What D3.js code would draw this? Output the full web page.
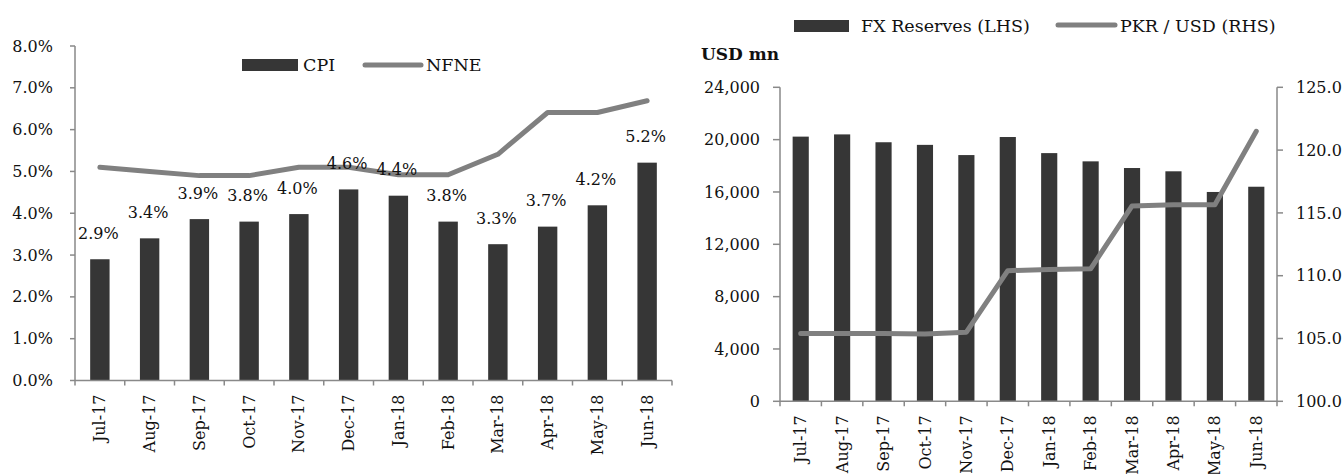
<!DOCTYPE html>
<head>
<meta charset="utf-8">
<style>
body { margin: 0; background: #fff; }
svg { display: block; }
text { font-family: "DejaVu Serif", serif; font-size: 16px; fill: #111; }
.legend { font-size: 17.5px; }
.axis-line { stroke: #898989; stroke-width: 1.5; fill: none; }
.bar { fill: #363636; }
.line { fill: none; stroke: #808080; stroke-width: 5; stroke-linejoin: round; stroke-linecap: round; }
</style>
<title>CPI vs NFNE, FX reserves vs PKR/USD</title>
</head>
<body>
<svg width="1344" height="474"></svg>
<script src="https://cdn.jsdelivr.net/npm/d3@7"></script>
<script>
// ---- data ----
var months = ["Jul-17","Aug-17","Sep-17","Oct-17","Nov-17","Dec-17","Jan-18","Feb-18","Mar-18","Apr-18","May-18","Jun-18"];
var cpi = [2.90, 3.40, 3.86, 3.80, 3.98, 4.57, 4.42, 3.80, 3.26, 3.68, 4.19, 5.21];
var nfne = [5.10, 5.00, 4.90, 4.90, 5.10, 5.10, 4.92, 4.92, 5.41, 6.41, 6.41, 6.69];
var pctTicks = [0, 1, 2, 3, 4, 5, 6, 7, 8];

var fxReserves = [20230, 20400, 19800, 19600, 18820, 20200, 18970, 18340, 17830, 17580, 16000, 16400];
var pkrUsd = [105.4, 105.4, 105.4, 105.35, 105.5, 110.4, 110.5, 110.55, 115.55, 115.65, 115.65, 121.5];
var fxTicks = [0, 4000, 8000, 12000, 16000, 20000, 24000];
var pkrTicks = [100, 105, 110, 115, 120, 125];

var svg = d3.select("svg");

// helper: draw category axis with ticks between categories
function catAxis(g, x, y0, labelGap) {
  var d0 = x.range()[0], d1 = x.range()[1];
  g.append("line").attr("class", "axis-line")
    .attr("x1", d0).attr("x2", d1).attr("y1", y0).attr("y2", y0);
  var edges = x.domain().map(function(d) { return x(d); }).concat([d1]);
  g.selectAll(".xt").data(edges).enter().append("line")
    .attr("class", "axis-line")
    .attr("x1", function(d) { return d; }).attr("x2", function(d) { return d; })
    .attr("y1", y0).attr("y2", y0 + 5);
  g.selectAll(".xl").data(x.domain()).enter().append("text")
    .attr("transform", function(d) { return "translate(" + (x(d) + x.bandwidth() / 2) + "," + (y0 + labelGap) + ") rotate(-90)"; })
    .attr("text-anchor", "end")
    .attr("dy", "0.35em")
    .text(function(d) { return d; });
}

// ================= left chart =================
var xL = d3.scaleBand().domain(months).range([75, 672]);
var yL = d3.scaleLinear().domain([0, 8]).range([380.5, 46]);
var g1 = svg.append("g");

g1.append("line").attr("class", "axis-line")
  .attr("x1", 75).attr("x2", 75).attr("y1", yL(8)).attr("y2", yL(0));
g1.selectAll(".yt").data(pctTicks).enter().append("line")
  .attr("class", "axis-line")
  .attr("x1", 70).attr("x2", 75)
  .attr("y1", function(d) { return yL(d); }).attr("y2", function(d) { return yL(d); });
g1.selectAll(".yl").data(pctTicks).enter().append("text")
  .attr("x", 53).attr("y", function(d) { return yL(d); })
  .attr("dy", "0.35em").attr("text-anchor", "end")
  .text(function(d) { return d.toFixed(1) + "%"; });

var bw1 = xL.bandwidth() * 0.39;
g1.selectAll(".bar").data(cpi).enter().append("rect")
  .attr("class", "bar")
  .attr("x", function(d, i) { return xL(months[i]) + (xL.bandwidth() - bw1) / 2; })
  .attr("y", function(d) { return yL(d); })
  .attr("width", bw1)
  .attr("height", function(d) { return yL(0) - yL(d); });

catAxis(g1, xL, yL(0), 14);

g1.append("path").datum(nfne).attr("class", "line")
  .attr("d", d3.line()
    .x(function(d, i) { return xL(months[i]) + xL.bandwidth() / 2; })
    .y(function(d) { return yL(d); }));

g1.selectAll(".dl").data(cpi).enter().append("text")
  .attr("x", function(d, i) { return xL(months[i]) + xL.bandwidth() / 2 - 1.5; })
  .attr("y", function(d) { return yL(d) - 26; })
  .attr("dy", "0.35em").attr("text-anchor", "middle")
  .text(function(d) { return d.toFixed(1) + "%"; });

// legend
g1.append("rect").attr("class", "bar").attr("x", 242).attr("y", 59).attr("width", 56).attr("height", 12);
g1.append("text").attr("class", "legend").attr("x", 303).attr("y", 65).attr("dy", "0.35em").text("CPI");
g1.append("line").attr("class", "line").attr("x1", 365).attr("x2", 421).attr("y1", 65).attr("y2", 65);
g1.append("text").attr("class", "legend").attr("x", 426).attr("y", 65).attr("dy", "0.35em").text("NFNE");

// ================= right chart =================
var xR = d3.scaleBand().domain(months).range([780, 1277]);
var yFx = d3.scaleLinear().domain([0, 24000]).range([401.3, 87.3]);
var yPkr = d3.scaleLinear().domain([100, 125]).range([401.3, 87.3]);
var g2 = svg.append("g");

g2.append("line").attr("class", "axis-line")
  .attr("x1", 780).attr("x2", 780).attr("y1", yFx(24000)).attr("y2", yFx(0));
g2.selectAll(".yt").data(fxTicks).enter().append("line")
  .attr("class", "axis-line")
  .attr("x1", 773).attr("x2", 780)
  .attr("y1", function(d) { return yFx(d); }).attr("y2", function(d) { return yFx(d); });
g2.selectAll(".yl").data(fxTicks).enter().append("text")
  .attr("x", 760).attr("y", function(d) { return yFx(d); })
  .attr("dy", "0.35em").attr("text-anchor", "end")
  .text(function(d) { return d3.format(",")(d); });

g2.append("line").attr("class", "axis-line")
  .attr("x1", 1277).attr("x2", 1277).attr("y1", yPkr(125)).attr("y2", yPkr(100));
g2.selectAll(".rt").data(pkrTicks).enter().append("line")
  .attr("class", "axis-line")
  .attr("x1", 1277).attr("x2", 1283)
  .attr("y1", function(d) { return yPkr(d); }).attr("y2", function(d) { return yPkr(d); });
g2.selectAll(".rl").data(pkrTicks).enter().append("text")
  .attr("x", 1296).attr("y", function(d) { return yPkr(d); })
  .attr("dy", "0.35em")
  .text(function(d) { return d.toFixed(1); });

var bw2 = xR.bandwidth() * 0.39;
g2.selectAll(".bar").data(fxReserves).enter().append("rect")
  .attr("class", "bar")
  .attr("x", function(d, i) { return xR(months[i]) + (xR.bandwidth() - bw2) / 2; })
  .attr("y", function(d) { return yFx(d); })
  .attr("width", bw2)
  .attr("height", function(d) { return yFx(0) - yFx(d); });

catAxis(g2, xR, yFx(0), 14);

g2.append("path").datum(pkrUsd).attr("class", "line")
  .attr("d", d3.line()
    .x(function(d, i) { return xR(months[i]) + xR.bandwidth() / 2; })
    .y(function(d) { return yPkr(d); }));

g2.append("text").attr("x", 701).attr("y", 54).attr("dy", "0.35em")
  .style("font-weight", "bold").style("font-size", "17px").text("USD mn");

g2.append("rect").attr("class", "bar").attr("x", 794).attr("y", 20).attr("width", 55).attr("height", 12);
g2.append("text").attr("class", "legend").attr("x", 861).attr("y", 26).attr("dy", "0.35em").text("FX Reserves (LHS)");
g2.append("line").attr("class", "line").attr("x1", 1058).attr("x2", 1115).attr("y1", 25).attr("y2", 25);
g2.append("text").attr("class", "legend").attr("x", 1120).attr("y", 26).attr("dy", "0.35em").text("PKR / USD (RHS)");
</script>
</body>
